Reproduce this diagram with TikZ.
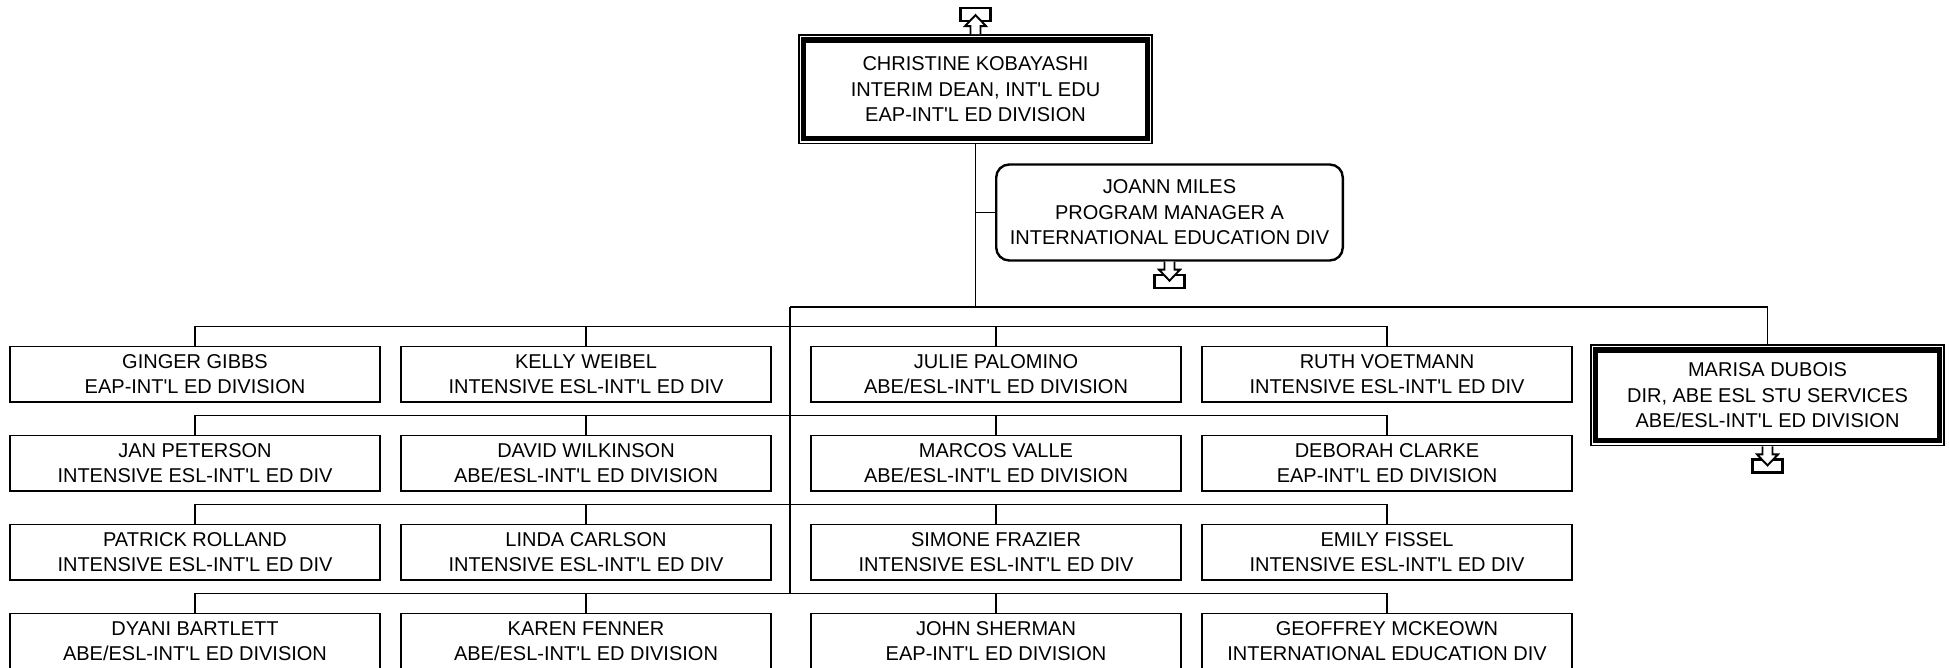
\documentclass[tikz,border=0pt]{standalone}
\usepackage{fontspec}
\newfontfamily\lab{Liberation Sans}
\begin{document}
\begin{tikzpicture}[x=1pt,y=-1pt,
  base/.style={font=\lab\fontsize{20}{25.5}\selectfont, align=center, inner sep=0pt},
  staff/.style={base, draw, line width=1.9pt, minimum width=370.1pt, minimum height=55.1pt},
  mgr/.style={base, draw, line width=2.4pt, rounded corners=13pt, minimum width=346.6pt, minimum height=96pt},
  head/.style={base, minimum width=355pt},
  link/.style={line width=1.8pt},
  outerline/.style={line width=1.8pt},
  innerband/.style={line width=5.4pt},
  pics/downicon/.style={code={
    \draw[fill=white, line width=2.2pt] (-15,13) rectangle (15,26);
    \draw[fill=white, line width=1.9pt, line join=miter] (-5,0) -- (-5,8) -- (-10.5,8) -- (0,19) -- (10.5,8) -- (5,8) -- (5,0);
  }}
]
\useasboundingbox (0,0) rectangle (1949,668);

% head boxes
\node[head, minimum height=110pt] (chris) at (975.5,89.3) {CHRISTINE KOBAYASHI\\INTERIM DEAN, INT'L EDU\\EAP-INT'L ED DIVISION};
\draw[outerline] ([shift={(0.9,0.9)}]chris.north west) rectangle ([shift={(-0.9,-0.9)}]chris.south east);
\draw[innerband] ([shift={(5.9,5.9)}]chris.north west) rectangle ([shift={(-5.9,-5.9)}]chris.south east);

\node[head, minimum height=102pt] (marisa) at (1767.5,395.2) {MARISA DUBOIS\\DIR, ABE ESL STU SERVICES\\ABE/ESL-INT'L ED DIVISION};
\draw[outerline] ([shift={(0.9,0.9)}]marisa.north west) rectangle ([shift={(-0.9,-0.9)}]marisa.south east);
\draw[innerband] ([shift={(5.9,5.9)}]marisa.north west) rectangle ([shift={(-5.9,-5.9)}]marisa.south east);

\node[mgr] (joann) at (1169.5,212.5) {JOANN MILES\\PROGRAM MANAGER A\\INTERNATIONAL EDUCATION DIV};

% icons
\pic[yscale=-1] at (chris.north) {downicon};
\pic at (joann.south) {downicon};
\pic at (marisa.south) {downicon};

% staff grid
\node[staff] (r1c1) at (195,374) {GINGER GIBBS\\EAP-INT'L ED DIVISION};
\node[staff] (r1c2) at (586,374) {KELLY WEIBEL\\INTENSIVE ESL-INT'L ED DIV};
\node[staff] (r1c3) at (996,374) {JULIE PALOMINO\\ABE/ESL-INT'L ED DIVISION};
\node[staff] (r1c4) at (1387,374) {RUTH VOETMANN\\INTENSIVE ESL-INT'L ED DIV};

\node[staff] (r2c1) at (195,463) {JAN PETERSON\\INTENSIVE ESL-INT'L ED DIV};
\node[staff] (r2c2) at (586,463) {DAVID WILKINSON\\ABE/ESL-INT'L ED DIVISION};
\node[staff] (r2c3) at (996,463) {MARCOS VALLE\\ABE/ESL-INT'L ED DIVISION};
\node[staff] (r2c4) at (1387,463) {DEBORAH CLARKE\\EAP-INT'L ED DIVISION};

\node[staff] (r3c1) at (195,552) {PATRICK ROLLAND\\INTENSIVE ESL-INT'L ED DIV};
\node[staff] (r3c2) at (586,552) {LINDA CARLSON\\INTENSIVE ESL-INT'L ED DIV};
\node[staff] (r3c3) at (996,552) {SIMONE FRAZIER\\INTENSIVE ESL-INT'L ED DIV};
\node[staff] (r3c4) at (1387,552) {EMILY FISSEL\\INTENSIVE ESL-INT'L ED DIV};

\node[staff] (r4c1) at (195,641) {DYANI BARTLETT\\ABE/ESL-INT'L ED DIVISION};
\node[staff] (r4c2) at (586,641) {KAREN FENNER\\ABE/ESL-INT'L ED DIVISION};
\node[staff] (r4c3) at (996,641) {JOHN SHERMAN\\EAP-INT'L ED DIVISION};
\node[staff] (r4c4) at (1387,641) {GEOFFREY MCKEOWN\\INTERNATIONAL EDUCATION DIV};

% connectors
\coordinate (bus) at (790,307.3);
\coordinate (b1) at (790,326.5);
\coordinate (b2) at (790,415.5);
\coordinate (b3) at (790,504.5);
\coordinate (b4) at (790,593.5);

\draw[link] (chris.south) -- (chris.south |- bus);
\draw[link] (chris.south |- joann.west) -- (joann.west);
\draw[link] (bus) -| (marisa.north);
\draw[link] (bus) -- (b4);

\foreach \r in {1,2,3,4}{
  \draw[link] (r\r c1.north) |- (b\r) -| (r\r c4.north);
  \draw[link] (r\r c2.north) -- (r\r c2.north |- b\r);
  \draw[link] (r\r c3.north) -- (r\r c3.north |- b\r);
}
\end{tikzpicture}
\end{document}
